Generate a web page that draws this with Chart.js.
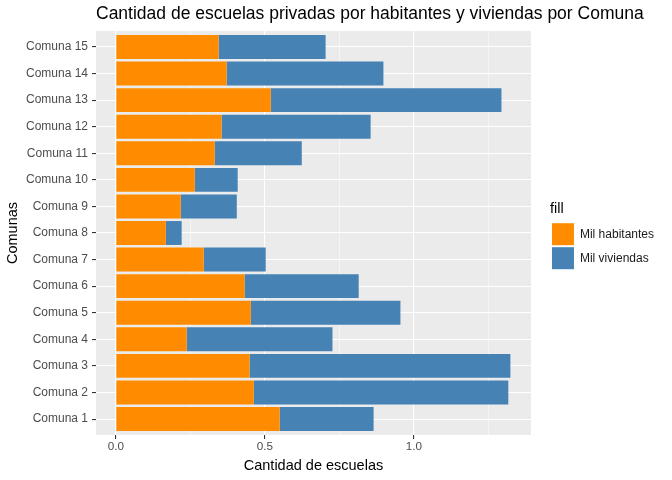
<!DOCTYPE html>
<html>
<head>
<meta charset="utf-8">
<script src="https://cdn.jsdelivr.net/npm/chart.js@4.4.0/dist/chart.umd.min.js"></script>
<style>
  html, body { margin: 0; padding: 0; background: #fff; }
  #caja { width: 672px; height: 480px; }
</style>
</head>
<body>
<div id="caja"><canvas id="graficoComunas"></canvas></div>
<script>
const comunas = ['Comuna 1','Comuna 2','Comuna 3','Comuna 4','Comuna 5','Comuna 6','Comuna 7','Comuna 8',
                 'Comuna 9','Comuna 10','Comuna 11','Comuna 12','Comuna 13','Comuna 14','Comuna 15'];
const milHabitantes = [0.550, 0.463, 0.449, 0.238, 0.453, 0.432, 0.295, 0.168, 0.218, 0.265, 0.332, 0.355, 0.520, 0.372, 0.345];
const milViviendas  = [0.315, 0.854, 0.875, 0.489, 0.502, 0.383, 0.208, 0.053, 0.188, 0.144, 0.292, 0.500, 0.774, 0.526, 0.359];
const ticksMayores = [0, 0.5, 1.0];
const ticksMenores = [0.25, 0.75, 1.25];

// fondo gris del panel, como ggplot
const fondoPanel = {
  id: 'fondoPanel',
  beforeDraw(chart) {
    const a = chart.chartArea;
    const ctx = chart.ctx;
    ctx.save();
    ctx.fillStyle = '#EBEBEB';
    ctx.fillRect(a.left, a.top, a.right - a.left, a.bottom - a.top);
    ctx.restore();
  }
};

// deja un hueco entre panel y leyenda, y estira el titulo hasta el borde
const ajustes = {
  id: 'ajustes',
  afterInit(chart) {
    const fitOriginal = chart.legend.fit;
    chart.legend.fit = function () { fitOriginal.call(this); this.width += 22; };
  },
  afterLayout(chart) {
    chart.legend.left += 19;
    chart.legend.top -= 7;
    chart.titleBlock.left = chart.chartArea.left;
    chart.titleBlock.right = chart.width;
  }
};

const esMayor = v => ticksMayores.some(t => Math.abs(t - v) < 1e-9);

const ctx = document.getElementById('graficoComunas');
new Chart(ctx, {
  type: 'bar',
  data: {
    datasets: [
      { label: 'Mil habitantes', data: milHabitantes.map((v, i) => ({x: v, y: i + 1})),
        backgroundColor: '#FF8C00', borderWidth: 0, barPercentage: 0.9, categoryPercentage: 1.0 },
      { label: 'Mil viviendas', data: milViviendas.map((v, i) => ({x: v, y: i + 1})),
        backgroundColor: '#4682B4', borderWidth: 0, barPercentage: 0.9, categoryPercentage: 1.0 }
    ]
  },
  options: {
    indexAxis: 'y',
    responsive: true,
    maintainAspectRatio: false,
    animation: false,
    layout: { padding: { left: 0, right: 5, top: 0, bottom: 0 } },
    scales: {
      x: {
        type: 'linear',
        stacked: true,
        offset: false,
        min: -0.0664,
        max: 1.393,
        afterBuildTicks: s => { s.ticks = ticksMayores.concat(ticksMenores).sort((a, b) => a - b).map(v => ({value: v})); },
        afterFit: s => { s.height = 45; },
        border: { display: false },
        grid: {
          offset: false,
          color: '#FFFFFF',
          lineWidth: c => esMayor(c.tick.value) ? 1.1 : 0.5,
          tickColor: c => esMayor(c.tick.value) ? '#333333' : 'rgba(0,0,0,0)',
          tickLength: 4
        },
        ticks: {
          color: '#4D4D4D',
          font: { family: 'Liberation Sans', size: 11.7 },
          padding: 1,
          maxRotation: 0,
          autoSkip: false,
          callback: v => esMayor(v) ? v.toFixed(1) : ''
        },
        title: {
          display: true,
          text: 'Cantidad de escuelas',
          color: '#000000',
          font: { family: 'Liberation Sans', size: 14.5 },
          padding: { top: 0, bottom: 5 }
        }
      },
      y: {
        type: 'linear',
        stacked: true,
        offset: false,
        min: 0.4,
        max: 15.6,
        afterBuildTicks: s => { s.ticks = comunas.map((c, i) => ({value: i + 1})); },
        afterFit: s => { s.width = 96; },
        border: { display: false },
        grid: {
          offset: false,
          color: '#FFFFFF',
          lineWidth: 1.1,
          tickColor: '#333333',
          tickLength: 4
        },
        ticks: {
          color: '#4D4D4D',
          font: { family: 'Liberation Sans', size: 12 },
          padding: 4,
          autoSkip: false,
          callback: v => comunas[Math.round(v) - 1]
        },
        title: {
          display: true,
          text: 'Comunas',
          color: '#000000',
          font: { family: 'Liberation Sans', size: 14.5 },
          padding: { top: 4, bottom: 0 }
        }
      }
    },
    plugins: {
      title: {
        display: true,
        text: 'Cantidad de escuelas privadas por habitantes y viviendas por Comuna',
        align: 'start',
        fullSize: false,
        color: '#000000',
        font: { family: 'Liberation Sans', size: 17.5, weight: 'normal' },
        padding: { top: 4, bottom: 6 }
      },
      legend: {
        position: 'right',
        align: 'center',
        title: {
          display: true,
          text: 'fill',
          position: 'start',
          color: '#000000',
          font: { family: 'Liberation Sans', size: 14.5 },
          padding: { top: 0, bottom: 2 }
        },
        labels: {
          boxWidth: 22,
          boxHeight: 22,
          padding: 2,
          color: '#1A1A1A',
          font: { family: 'Liberation Sans', size: 12 }
        }
      },
      tooltip: { enabled: false }
    }
  },
  plugins: [fondoPanel, ajustes]
});
</script>
</body>
</html>
